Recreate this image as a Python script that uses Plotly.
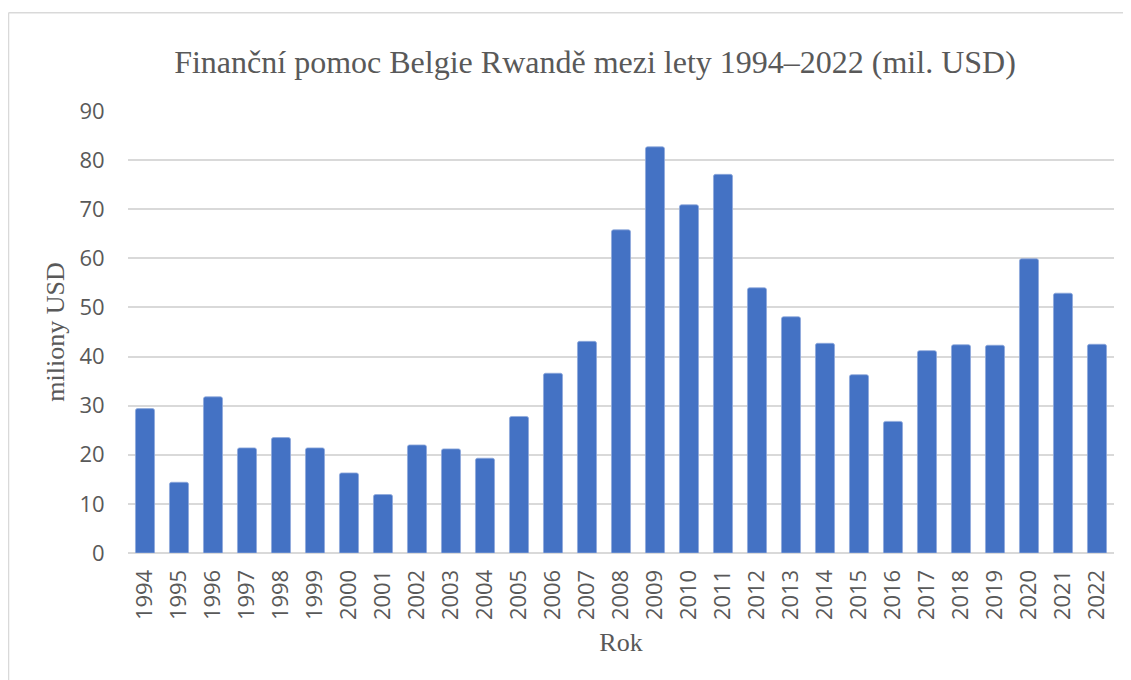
import plotly.graph_objects as go

years = [str(y) for y in range(1994, 2023)]
values = [29.4, 14.4, 31.8, 21.4, 23.5, 21.4, 16.3, 11.9, 22.0, 21.2,
          19.3, 27.8, 36.6, 43.1, 65.8, 82.7, 70.9, 77.1, 54.0, 48.1,
          42.7, 36.3, 26.8, 41.2, 42.4, 42.3, 59.9, 52.9, 42.5]
y_ticks = [0, 10, 20, 30, 40, 50, 60, 70, 80, 90]

title_text = "Finanční pomoc Belgie Rwandě mezi lety 1994–2022 (mil. USD)"
y_title = "miliony USD"
x_title = "Rok"

OFF = 8  # page body margin
W, H = 1131 - OFF, 680 - OFF
L, T = 127.5 - OFF, 111.3 - OFF
R = W - (1113.7 - OFF)
B = H - (553.3 - OFF)
pw, ph = W - L - R, H - T - B

fig = go.Figure(go.Bar(
    x=years, y=values,
    marker=dict(color="#4472C4", line=dict(color="#8fa9dc", width=0.8), cornerradius=2),
))

serif = "Liberation Serif, Times New Roman, serif"
sans = "Open Sans, Liberation Sans, sans-serif"
gray = "#595959"

fig.update_layout(
    width=W, height=H,
    margin=dict(l=L, r=R, t=T, b=B, pad=0),
    paper_bgcolor="white", plot_bgcolor="white",
    bargap=0.44,
    showlegend=False,
    title=dict(text=title_text, x=(595 - OFF) / W, xanchor="center", y=1 - (62 - OFF) / H,
               yanchor="middle", font=dict(family=serif, size=32, color=gray)),
    xaxis=dict(
        type="category", tickangle=-90, showgrid=False, showline=False, zeroline=False,
        tickfont=dict(family=sans, size=22, color=gray),
        ticks="outside", ticklen=7, tickcolor="rgba(0,0,0,0)",
        title=dict(text=x_title, font=dict(family=serif, size=26, color=gray), standoff=13),
    ),
    yaxis=dict(
        range=[0, 90], tickvals=y_ticks, showgrid=True, gridcolor="#d9d9d9", gridwidth=1.5,
        zeroline=True, zerolinecolor="#d9d9d9", zerolinewidth=1.5, showline=False,
        tickfont=dict(family=sans, size=22, color=gray),
        ticks="outside", ticklen=18, tickcolor="rgba(0,0,0,0)",
        title=dict(text=y_title, font=dict(family=serif, size=26, color=gray), standoff=7),
    ),
)

# chart-area border (only top and left edges fall inside the image)
bx = (8 - OFF - L) / pw
by = (H - B - (13 - OFF)) / ph
fig.add_shape(type="line", xref="paper", yref="paper", x0=bx, x1=bx, y0=-0.5, y1=by,
              line=dict(color="#d9d9d9", width=1.5))
fig.add_shape(type="line", xref="paper", yref="paper", x0=bx, x1=1.2, y0=by, y1=by,
              line=dict(color="#d9d9d9", width=1.5))

fig.write_html("out.html")
